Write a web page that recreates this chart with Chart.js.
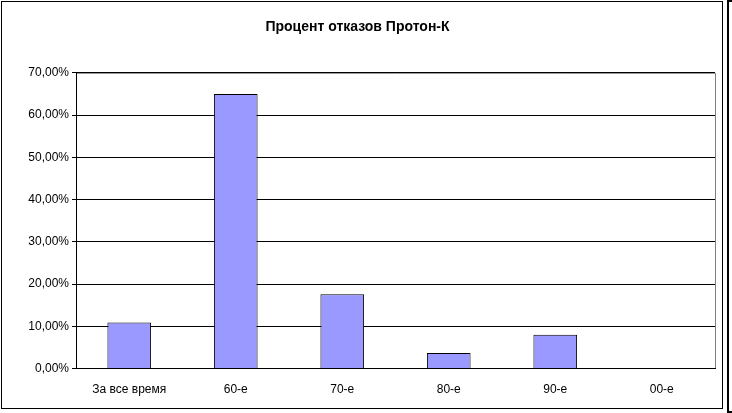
<!DOCTYPE html><html><head><meta charset="utf-8">
<script src="https://cdn.jsdelivr.net/npm/chart.js@4"></script>
<style>html,body{margin:0;padding:0;background:#fff}canvas{display:block}</style></head><body>
<canvas id="c" width="732" height="413"></canvas>
<script>
const categories=["За все время","60-е","70-е","80-е","90-е","00-е"];
const failurePercent=[10.9,65.0,17.6,3.7,8.0,0];
const chartTitle="Процент отказов Протон-К";
const frame={id:'frame',beforeDraw(ch){const c=ch.ctx,a=ch.chartArea;c.save();c.strokeStyle='#000';c.lineWidth=1;c.strokeRect(1.5,1.5,721,407);
c.strokeStyle='#808080';c.beginPath();c.moveTo(a.left,a.top+0.5);c.lineTo(a.right+0.5,a.top+0.5);c.lineTo(a.right+0.5,a.bottom);c.stroke();
c.fillStyle='#000';c.fillRect(727,0,5,413);c.fillStyle='#fff';c.fillRect(729,2,3,409);c.restore();}};
new Chart(document.getElementById('c'),{type:'bar',
data:{labels:categories,datasets:[{data:failurePercent,backgroundColor:'#9999ff',borderColor:'#000',borderWidth:1,barPercentage:0.41,categoryPercentage:1}]},
options:{responsive:false,animation:false,devicePixelRatio:1,
layout:{padding:{left:0,right:17,top:0,bottom:10}},
plugins:{legend:{display:false},tooltip:{enabled:false},
title:{display:true,text:chartTitle,color:'#000',font:{family:'Liberation Sans',size:14,weight:'bold'},padding:{top:19,bottom:37}}},
scales:{x:{grid:{display:false},border:{color:'#000'},ticks:{color:'#000',font:{family:'Liberation Sans',size:12},maxRotation:0,padding:6}},
y:{min:0,max:70,afterFit(s){s.width=76;},ticks:{stepSize:10,color:'#000',font:{family:'Liberation Sans',size:12},callback:v=>v.toFixed(2).replace('.',',')+'%'},
grid:{color:'#000',drawTicks:true,tickLength:4},border:{color:'#000'}}}},
plugins:[frame]});
</script></body></html>
